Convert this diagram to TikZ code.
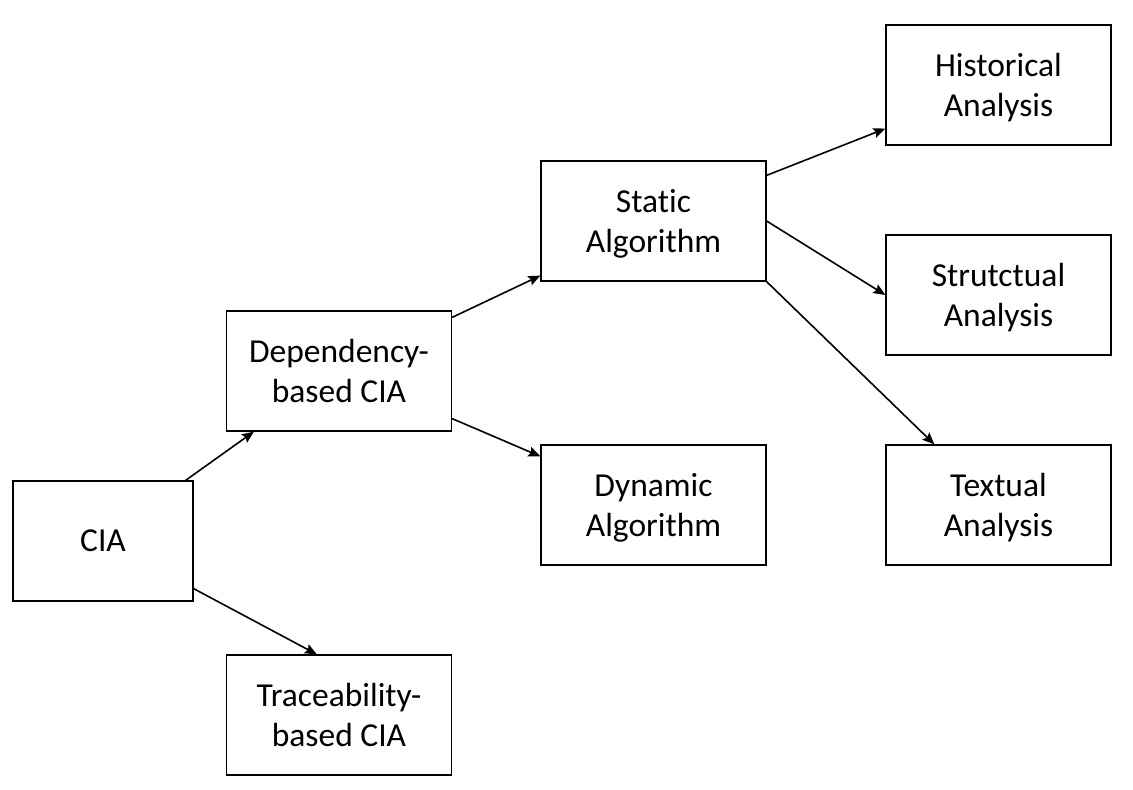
\documentclass[tikz,border=0pt]{standalone}
\usepackage{fontspec}
\setmainfont{Carlito}[RawFeature=-liga]
\usetikzlibrary{arrows.meta,calc}
\begin{document}
\begin{tikzpicture}[x=1pt,y=-1pt,
  box/.style={draw=black,line width=1.2pt,fill=white,minimum height=120pt,inner sep=0pt,align=center,
    text depth=0pt,font=\fontsize{33.5}{40}\selectfont},
  wide/.style={box,minimum width=225pt},
  narrow/.style={box,minimum width=180pt},
  conn/.style={line width=1.6pt,-{Stealth[length=12pt,width=10pt,inset=2pt]}}]
\useasboundingbox (0,0) rectangle (1133,790);
\node[narrow] (cia) at (103,541) {CIA};
\node[wide] (dep) at (339,371) {Dependency-\\based CIA};
\node[wide] (trace) at (339,715) {Traceability-\\based CIA};
\node[wide] (static) at (653.5,221) {Static\\Algorithm};
\node[wide] (dyn) at (653.5,505) {Dynamic\\Algorithm};
\node[wide] (hist) at (998.5,85) {Historical\\Analysis};
\node[wide] (strut) at (998.5,295) {Strutctual\\Analysis};
\node[wide] (text) at (998.5,505) {Textual\\Analysis};
\draw[conn] ($(cia.north east)+(-8,0)$) -- ($(dep.south west)+(28,0)$);
\draw[conn] ($(cia.south east)+(0,-13)$) -- ($(trace.north west)+(91,0)$);
\draw[conn] ($(dep.north east)+(0,7)$) -- ($(static.south west)+(0,-6)$);
\draw[conn] ($(dep.south east)+(0,-13)$) -- ($(dyn.north west)+(0,12)$);
\draw[conn] ($(static.north east)+(0,15)$) -- ($(hist.south west)+(0,-17)$);
\draw[conn] (static.east) -- (strut.west);
\draw[conn] (static.south east) -- ($(text.north west)+(49,0)$);
\end{tikzpicture}
\end{document}
